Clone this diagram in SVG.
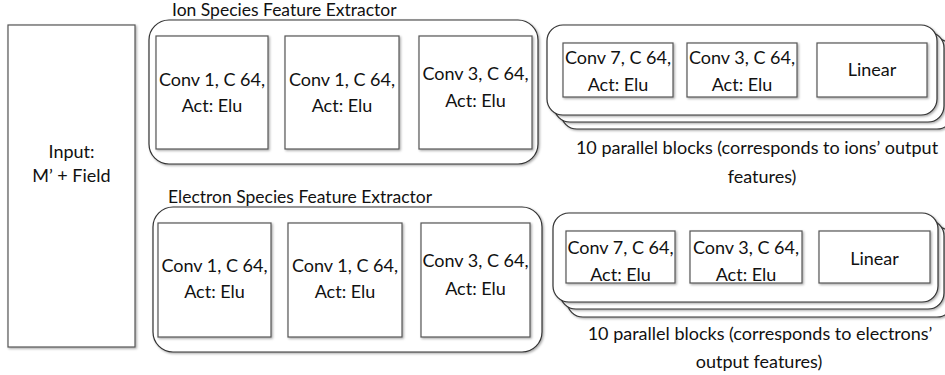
<svg xmlns="http://www.w3.org/2000/svg" width="945" height="375" viewBox="0 0 945 375">
  <defs>
    <filter id="shadow" x="-10%" y="-10%" width="130%" height="130%">
      <feDropShadow dx="1.2" dy="1.2" stdDeviation="0.8" flood-color="#000" flood-opacity="0.35"/>
    </filter>
  </defs>
  <style>
    .box { fill: #fff; stroke: #555; stroke-width: 1.2; filter: url(#shadow); }
    .grp { fill: #fff; stroke: #333; stroke-width: 1.2; filter: url(#shadow); }
    text { font-family: Lato, "Open Sans", "Liberation Sans", sans-serif; font-size: 18px; fill: #111; }
    .t { font-size: 17.5px; }
    .c { text-anchor: middle; }
  </style>

  <!-- input -->
  <g id="input">
    <rect class="box" x="8" y="25" width="127" height="322"/>
    <text class="c" x="71.5" y="158">Input:</text>
    <text class="c" x="71.5" y="182">M’ + Field</text>
  </g>

  <!-- ion species feature extractor -->
  <g id="ion-extractor">
    <text class="t" x="172" y="16">Ion Species Feature Extractor</text>
    <rect class="grp" x="149" y="20" width="389" height="144" rx="20"/>
    <g id="ion-conv1a">
      <rect class="box" x="156" y="36" width="112" height="113"/>
      <text class="c" x="212" y="86">Conv 1, C 64,</text>
      <text class="c" x="212" y="112">Act: Elu</text>
    </g>
    <g id="ion-conv1b">
      <rect class="box" x="285" y="36" width="114" height="113"/>
      <text class="c" x="342" y="86">Conv 1, C 64,</text>
      <text class="c" x="342" y="112">Act: Elu</text>
    </g>
    <g id="ion-conv3">
      <rect class="box" x="419" y="36" width="113" height="113"/>
      <text class="c" x="475.5" y="80">Conv 3, C 64,</text>
      <text class="c" x="475.5" y="107">Act: Elu</text>
    </g>
  </g>

  <!-- ion output heads (stacked) -->
  <g id="ion-heads">
    <rect class="grp" x="561" y="39" width="392" height="90" rx="16"/>
    <rect class="grp" x="554" y="32" width="390" height="90" rx="16"/>
    <rect class="grp" x="547" y="25" width="390" height="90" rx="16"/>
    <g id="ion-head-conv7">
      <rect class="box" x="563" y="43" width="110" height="54"/>
      <text class="c" x="618" y="64">Conv 7, C 64,</text>
      <text class="c" x="618" y="91">Act: Elu</text>
    </g>
    <g id="ion-head-conv3">
      <rect class="box" x="687" y="43" width="110" height="54"/>
      <text class="c" x="742" y="64">Conv 3, C 64,</text>
      <text class="c" x="742" y="91">Act: Elu</text>
    </g>
    <g id="ion-head-linear">
      <rect class="box" x="817" y="43" width="110" height="54"/>
      <text class="c" x="872" y="76">Linear</text>
    </g>
    <text class="c" x="757" y="154">10 parallel blocks (corresponds to ions’  output</text>
    <text class="c" x="762" y="183">features)</text>
  </g>

  <!-- electron species feature extractor -->
  <g id="electron-extractor">
    <text class="t" x="168" y="203">Electron Species Feature Extractor</text>
    <rect class="grp" x="153" y="207" width="389" height="145" rx="20"/>
    <g id="el-conv1a">
      <rect class="box" x="158" y="223" width="113" height="114"/>
      <text class="c" x="214.5" y="272">Conv 1, C 64,</text>
      <text class="c" x="214.5" y="298">Act: Elu</text>
    </g>
    <g id="el-conv1b">
      <rect class="box" x="288" y="223" width="114" height="114"/>
      <text class="c" x="345" y="272">Conv 1, C 64,</text>
      <text class="c" x="345" y="298">Act: Elu</text>
    </g>
    <g id="el-conv3">
      <rect class="box" x="421" y="223" width="109" height="114"/>
      <text class="c" x="475.5" y="267">Conv 3, C 64,</text>
      <text class="c" x="475.5" y="295">Act: Elu</text>
    </g>
  </g>

  <!-- electron output heads (stacked) -->
  <g id="electron-heads">
    <rect class="grp" x="567" y="227" width="386" height="90" rx="16"/>
    <rect class="grp" x="560" y="220" width="384" height="89" rx="16"/>
    <rect class="grp" x="553" y="213" width="385" height="89" rx="16"/>
    <g id="el-head-conv7">
      <rect class="box" x="566" y="231" width="109" height="52"/>
      <text class="c" x="620.5" y="254">Conv 7, C 64,</text>
      <text class="c" x="620.5" y="281">Act: Elu</text>
    </g>
    <g id="el-head-conv3">
      <rect class="box" x="690" y="231" width="112" height="52"/>
      <text class="c" x="746" y="254">Conv 3, C 64,</text>
      <text class="c" x="746" y="281">Act: Elu</text>
    </g>
    <g id="el-head-linear">
      <rect class="box" x="819" y="231" width="111" height="52"/>
      <text class="c" x="874.5" y="265">Linear</text>
    </g>
    <text class="c" x="760" y="340">10 parallel blocks (corresponds to electrons’</text>
    <text class="c" x="759" y="368">output features)</text>
  </g>

  <!-- no connectors are drawn between the blocks -->
  <g id="connectors"/>
</svg>
